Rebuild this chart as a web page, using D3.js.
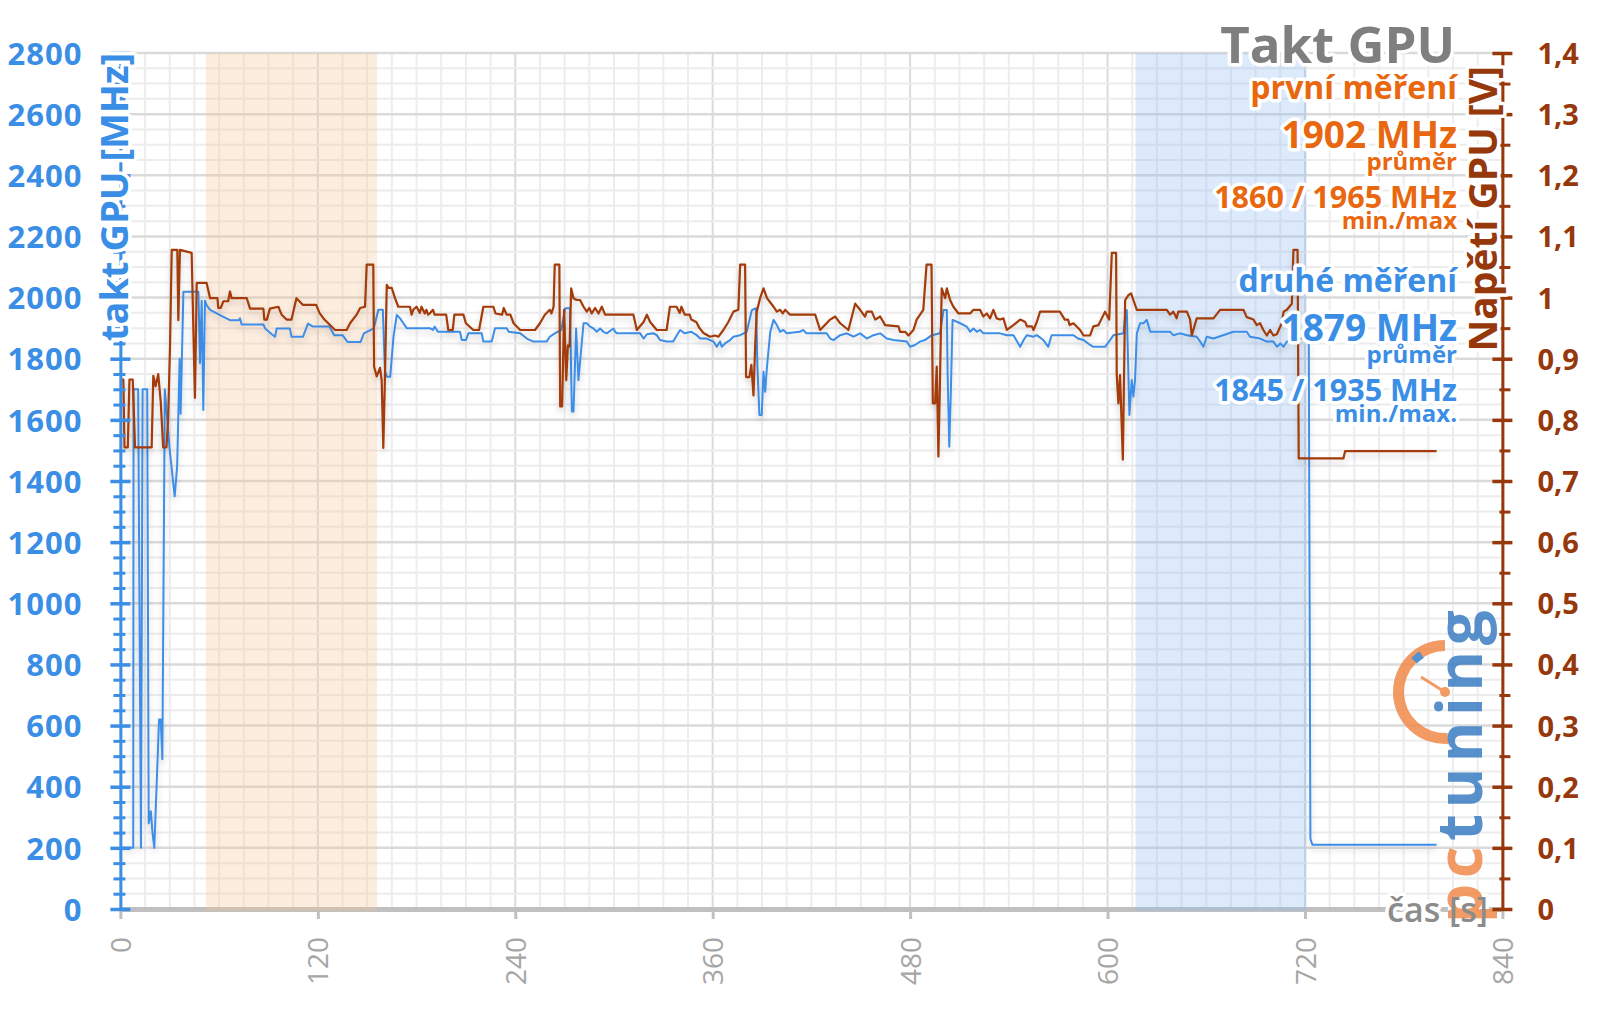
<!DOCTYPE html>
<html><head><meta charset="utf-8">
<script src="https://cdn.jsdelivr.net/npm/d3@7"></script>
<style>
html,body{margin:0;padding:0;background:#fff;}
svg{display:block;font-family:"Open Sans",sans-serif;}
.halo{paint-order:stroke;stroke:#fff;stroke-width:7px;stroke-linejoin:round;}
</style></head><body>
<svg id="chart" width="1600" height="1009"></svg>
<script>
// ---------------- data ----------------
const xTicks = [0, 120, 240, 360, 480, 600, 720, 840];
const mhzTicks = [0, 200, 400, 600, 800, 1000, 1200, 1400, 1600, 1800, 2000, 2200, 2400, 2600, 2800];
const voltTicks = [0, 0.1, 0.2, 0.3, 0.4, 0.5, 0.6, 0.7, 0.8, 0.9, 1.0, 1.1, 1.2, 1.3, 1.4];
const voltLabels = ["0", "0,1", "0,2", "0,3", "0,4", "0,5", "0,6", "0,7", "0,8", "0,9", "1", "1,1", "1,2", "1,3", "1,4"];
const bandFirst = [52, 156];   // s
const bandSecond = [617, 721]; // s
const titleText = "Takt GPU";
const leftAxisTitle = "takt GPU [MHz]";
const rightAxisTitle = "Napětí GPU [V]";
const xAxisTitle = "čas [s]";
const legendFirst = ["první měření", "1902 MHz", "průměr", "1860 / 1965 MHz", "min./max"];
const legendSecond = ["druhé měření", "1879 MHz", "průměr", "1845 / 1935 MHz", "min./max."];

// GPU clock [s, MHz] (left axis)
const clockSeries = [
[0,200],[7.8,200],[8,1700],[10.8,1700],[12.5,200],[13.5,1700],[16.3,1700],[17.2,280],[18.5,320],[19.5,250],[20.6,200],[23.5,620],[24.5,620],[25.5,490],[27,1700],[30,1500],[33,1350],[34.5,1450],[36,1800],[36.6,1620],[38.3,2019],[47.4,2019],[48.4,1786],[49.4,1990],[50.4,1632],[51.4,1990],[52.4,1975],[54.5,1960],[58,1950],[62.6,1937],[66.6,1926],[72,1926],[72.7,1932],[73.7,1912],[86.9,1912],[88,1899],[92,1880],[94,1872],[95,1899],[103,1899],[104,1872],[111,1872],[114,1915],[117,1905],[127,1905],[130,1877],[135,1877],[138,1855],[146,1855],[148,1883],[154,1899],[156.8,1960],[159.5,1960],[160.8,1760],[162,1741],[164,1741],[166,1872],[168,1943],[170,1932],[172,1916],[174,1900],[188,1900],[190,1894],[191,1905],[193,1888],[206.4,1888],[207.5,1861],[210,1861],[211.5,1883],[219.6,1883],[220.6,1856],[225.7,1856],[227.7,1900],[234.8,1900],[236,1888],[243,1883],[247,1866],[251,1856],[259,1856],[261,1872],[264,1883],[268,1894],[270.3,1965],[273.3,1965],[274.4,1627],[275.4,1627],[277,1899],[278.4,1730],[279.4,1790],[281.5,1916],[283.5,1916],[285.5,1905],[287.5,1899],[289.6,1888],[291.6,1899],[293.6,1888],[295.6,1883],[299.7,1899],[300.7,1888],[301.7,1883],[315.9,1883],[318,1866],[320,1880],[324,1883],[326,1877],[328,1861],[332,1856],[336,1856],[338.2,1877],[340.2,1894],[343,1883],[347,1888],[350.3,1877],[352.4,1866],[356.4,1866],[360.5,1856],[362.5,1839],[364.5,1856],[365.5,1839],[367.5,1850],[370.6,1861],[372.6,1872],[376.7,1877],[380.7,1888],[383.8,1959],[386.4,1965],[387.2,1774],[388.4,1616],[389.8,1616],[390.9,1757],[391.9,1692],[392.9,1768],[395,1888],[397,1927],[399,1910],[401,1888],[403,1894],[405,1883],[413,1888],[415,1894],[417,1883],[429.3,1883],[431.4,1866],[433.4,1861],[437.5,1877],[441.5,1883],[445.6,1872],[449.6,1883],[453.7,1866],[457.7,1877],[461.8,1883],[465.8,1866],[469.9,1861],[478,1856],[480,1839],[483,1845],[486,1856],[489,1861],[493.2,1877],[498.2,1883],[500.3,1959],[502.3,1959],[502.8,1752],[503.8,1512],[504.8,1700],[505.8,1927],[508.4,1921],[510.4,1916],[514.4,1905],[516.5,1888],[518.5,1899],[520.5,1888],[522.5,1894],[524.5,1883],[534.7,1883],[538.8,1877],[542.8,1877],[546.9,1839],[549,1861],[551,1877],[555,1872],[557,1877],[561,1861],[564,1839],[566,1877],[579.3,1877],[582,1866],[585.4,1861],[589.4,1845],[591.4,1839],[598.5,1839],[601.6,1861],[603.6,1877],[609.7,1883],[610.7,1943],[611.7,1959],[613.3,1616],[614.7,1730],[615.7,1676],[616.7,1730],[617.8,1883],[619.8,1916],[621.8,1916],[623.8,1927],[626,1888],[638,1888],[640,1877],[644,1883],[648.2,1877],[654.2,1872],[656.3,1856],[658.3,1839],[660.3,1872],[664.4,1866],[676.5,1888],[684.6,1888],[686.6,1872],[692.7,1866],[696.8,1856],[700.8,1856],[703,1839],[705,1850],[707,1839],[709,1856],[711,1861],[716,1866],[722.3,1866],[723.3,230],[724.5,210],[800,210]
];

// GPU voltage [s, V] (right axis)
const voltageSeries = [
[0,0.866],[1.8,0.866],[2.5,0.755],[4.5,0.755],[5.5,0.866],[7.5,0.866],[8.9,0.755],[19,0.755],[20,0.872],[21.4,0.855],[23,0.875],[24.5,0.83],[26,0.755],[28,0.755],[29,0.8],[30.2,0.925],[31.2,1.078],[34.6,1.078],[35.2,0.963],[36.2,1.078],[43.3,1.073],[45.3,0.836],[46.4,1.024],[52.4,1.024],[54.5,0.999],[59,0.999],[59.5,0.983],[61,0.983],[62.6,0.994],[65.5,0.994],[66.6,1.01],[67.6,0.999],[76.8,0.999],[78.8,0.982],[86.9,0.982],[87.5,0.964],[89,0.964],[90.9,0.982],[96,0.985],[98,0.972],[101,0.964],[104,0.964],[107,0.999],[111,0.988],[119,0.988],[121,0.975],[124,0.964],[130.5,0.947],[137.5,0.947],[139.6,0.958],[143.6,0.972],[145.7,0.983],[148.7,0.985],[149.7,1.054],[153.7,1.054],[154.2,0.887],[155.8,0.871],[157.8,0.885],[158.8,0.865],[159.8,0.754],[160.8,0.87],[161.9,1.021],[162.9,1.016],[164.9,1.016],[166.9,0.999],[168.9,0.985],[176,0.985],[177,0.972],[178,0.98],[180,0.985],[182,0.975],[183,0.985],[185,0.974],[186,0.98],[187,0.972],[188,0.974],[190,0.98],[191,0.972],[198,0.972],[199.3,0.947],[202,0.947],[203,0.972],[208.5,0.972],[210,0.958],[214.5,0.947],[218,0.947],[220.6,0.985],[226.7,0.985],[228,0.974],[232,0.972],[233,0.983],[234.8,0.972],[237,0.972],[239,0.958],[243,0.947],[252,0.947],[255,0.958],[258,0.972],[261,0.98],[262,0.974],[263.3,0.985],[264,1.054],[266.8,1.054],[267.3,0.822],[268.5,0.822],[269.7,0.98],[271,0.865],[272,0.922],[273,0.92],[274,1.015],[275.4,0.999],[277.3,0.996],[279.4,0.996],[281.5,0.985],[283.5,0.977],[285,0.983],[286.5,0.974],[288.5,0.983],[290.6,0.974],[292.6,0.985],[294.6,0.972],[311.8,0.972],[313.9,0.947],[318,0.96],[320,0.972],[322,0.96],[326,0.947],[332,0.947],[334,0.985],[338,0.985],[340,0.975],[341,0.985],[343,0.972],[346,0.972],[347,0.964],[350,0.96],[352,0.95],[354.4,0.942],[358.4,0.936],[361.5,0.938],[363.5,0.936],[366.5,0.947],[369.5,0.96],[372.6,0.977],[375.6,0.98],[376.7,1.054],[379.7,1.054],[380.3,0.87],[382.3,0.87],[383.5,0.89],[384.8,0.84],[385.8,0.92],[386.8,0.977],[388.8,0.999],[390.9,1.015],[393,0.999],[397,0.985],[399,0.977],[401,0.98],[402.6,0.974],[404,0.98],[407,0.972],[422.3,0.972],[425.3,0.947],[431.4,0.964],[434.5,0.969],[437.5,0.958],[442.5,0.947],[446.6,0.99],[449.6,0.98],[452.6,0.969],[453.7,0.977],[456.7,0.977],[458.8,0.964],[461.8,0.969],[464.8,0.955],[472.9,0.953],[473.9,0.944],[477,0.944],[479,0.938],[482,0.947],[484,0.964],[488,0.98],[490,1.054],[493,1.054],[493.8,0.827],[495.2,0.827],[496.2,0.887],[497.2,0.74],[498.2,0.87],[499.2,1.015],[501.3,0.999],[502.3,1.015],[504.3,0.996],[506.3,0.985],[509.4,0.974],[516.5,0.974],[518.5,0.98],[522.5,0.98],[524.5,0.969],[526.6,0.974],[528.6,0.966],[530.6,0.98],[532.6,0.966],[534.7,0.964],[536.7,0.966],[538.8,0.947],[542.8,0.955],[546.9,0.964],[550,0.96],[551,0.953],[554,0.953],[555,0.947],[557,0.96],[559,0.977],[571,0.977],[574,0.964],[576,0.964],[577,0.955],[579.3,0.958],[583.3,0.947],[585.4,0.938],[589.4,0.938],[591.4,0.953],[594.5,0.955],[596.5,0.966],[598.5,0.977],[601,0.964],[602.6,1.073],[605.2,1.073],[605.6,0.873],[606.6,0.827],[607.6,0.873],[609.3,0.735],[610.7,0.996],[612.7,1.004],[614.3,1.007],[615.7,0.996],[617.8,0.98],[636,0.98],[638,0.972],[640,0.977],[642,0.966],[643,0.977],[648.2,0.977],[650.2,0.964],[651.2,0.938],[654.2,0.966],[664.4,0.966],[668.4,0.98],[682.6,0.98],[684.6,0.968],[688.7,0.964],[690.7,0.955],[692.7,0.958],[694.7,0.947],[696.8,0.938],[698.8,0.947],[700.8,0.938],[702.9,0.94],[705.9,0.958],[707,0.977],[709,0.98],[712,0.99],[713,1.078],[715.5,1.078],[716.2,0.737],[743.4,0.737],[744.4,0.749],[800,0.749]
];

// ---------------- drawing ----------------
const BLUE = "#3a8ee6", BLUE_LINE = "#3d8ee8", ORANGE = "#e8670f", BROWN = "#96380b", BROWN_LINE = "#a33b08", GRAY = "#7f7f7f";
const svg = d3.select("#chart");
const defs = svg.append("defs");
const f = defs.append("filter").attr("id", "sh").attr("x", "-10%").attr("y", "-10%").attr("width", "120%").attr("height", "130%");
f.append("feDropShadow").attr("dx", 0).attr("dy", 4).attr("stdDeviation", 3).attr("flood-color", "#000").attr("flood-opacity", 0.18);

const x = d3.scaleLinear().domain([0, 840]).range([120.4, 1502.4]);
const yL = d3.scaleLinear().domain([0, 2800]).range([909, 53]);
const yR = d3.scaleLinear().domain([0, 1.4]).range([909, 53]);

// grid
const grid = svg.append("g");
grid.selectAll(".vmin").data(d3.range(0, 841, 15)).join("line")
  .attr("x1", d => x(d)).attr("x2", d => x(d)).attr("y1", yL(2800)).attr("y2", yL(0))
  .attr("stroke", d => d % 120 === 0 ? "#dadae2" : "#ededf1").attr("stroke-width", 2);
grid.selectAll(".hmin").data(d3.range(0, 2801, 50)).join("line")
  .attr("x1", x(0)).attr("x2", x(840)).attr("y1", d => yL(d)).attr("y2", d => yL(d))
  .attr("stroke", d => d % 200 === 0 ? "#dadada" : "#ececec").attr("stroke-width", d => d % 200 === 0 ? 2.5 : 2);

// x axis
const xAxis = svg.append("g").attr("transform", `translate(0,${yL(0)})`)
  .call(d3.axisBottom(x).tickValues(xTicks).tickSizeInner(10).tickSizeOuter(0).tickFormat(d3.format("d")));
xAxis.select(".domain").attr("stroke", "#c0c0c0").attr("stroke-width", 5);
xAxis.selectAll(".tick line").attr("stroke", "#c0c0c0").attr("stroke-width", 3);
xAxis.selectAll(".tick text")
  .attr("transform", "rotate(-90)").attr("text-anchor", "end")
  .attr("x", -28).attr("y", 0).attr("dy", "0.36em")
  .attr("fill", "#a6a6a6").attr("font-size", 28).attr("font-family", "Open Sans").attr("font-weight", 400);

// bands
svg.append("rect").attr("x", x(bandFirst[0])).attr("width", x(bandFirst[1]) - x(bandFirst[0]))
  .attr("y", yL(2800)).attr("height", yL(0) - yL(2800) + 2).attr("fill", "rgba(248,196,150,0.3)");
svg.append("rect").attr("x", x(bandSecond[0])).attr("width", x(bandSecond[1]) - x(bandSecond[0]))
  .attr("y", yL(2800)).attr("height", yL(0) - yL(2800) + 2).attr("fill", "rgba(140,186,242,0.3)");

// lines
const lineL = d3.line().x(d => x(d[0])).y(d => yL(d[1]));
const lineR = d3.line().x(d => x(d[0])).y(d => yR(d[1]));
svg.append("path").datum(clockSeries).attr("d", lineL).attr("fill", "none")
  .attr("stroke", BLUE_LINE).attr("stroke-width", 2).attr("stroke-linejoin", "round").attr("filter", "url(#sh)");
svg.append("path").datum(voltageSeries).attr("d", lineR).attr("fill", "none")
  .attr("stroke", BROWN_LINE).attr("stroke-width", 2.2).attr("stroke-linejoin", "round").attr("filter", "url(#sh)");

// x-axis title halo (under logo)
svg.append("text").attr("x", 1488).attr("y", 922).attr("text-anchor", "end")
  .attr("fill", "#fff").attr("stroke", "#fff").attr("stroke-width", 7).attr("stroke-linejoin", "round")
  .attr("font-size", 34).attr("font-weight", 600).text(xAxisTitle);

// logo
const logo = svg.append("g").attr("opacity", 0.85);
const cx = 1445, cy = 692;
logo.append("path").attr("transform", `translate(${cx},${cy})`)
  .attr("d", d3.arc().innerRadius(41).outerRadius(52).startAngle(Math.PI * 0.98).endAngle(Math.PI * 2.0)())
  .attr("fill", "#f08a4b");
logo.append("path").attr("transform", `translate(${cx},${cy})`)
  .attr("d", d3.arc().innerRadius(40).outerRadius(48).startAngle(Math.PI * 2 - 0.78).endAngle(Math.PI * 2 - 0.56)())
  .attr("fill", "#3b7dc4");
logo.append("line").attr("x1", cx).attr("y1", cy).attr("x2", cx - 24).attr("y2", cy - 15)
  .attr("stroke", "#f08a4b").attr("stroke-width", 3);
logo.append("circle").attr("cx", cx).attr("cy", cy).attr("r", 5).attr("fill", "#f08a4b");
const lt = logo.append("text").attr("transform", "translate(1482,923) rotate(-90)")
  .attr("font-size", 62).attr("font-weight", 700).attr("font-family", "Open Sans").attr("letter-spacing", 5.5);
lt.append("tspan").attr("fill", "#f08a4b").text("pc");
lt.append("tspan").attr("fill", "#3b7dc4").text("tuning");

// left axis
const lAxis = svg.append("g").attr("transform", `translate(${x(0)},0)`)
  .call(d3.axisLeft(yL).tickValues(mhzTicks).tickSizeOuter(0).tickFormat(d3.format("d")));
lAxis.select(".domain").attr("stroke", BLUE).attr("stroke-width", 3);
lAxis.selectAll(".tick line").attr("x1", -10).attr("x2", 10).attr("stroke", BLUE).attr("stroke-width", 3.5);
lAxis.selectAll(".tick text").attr("x", -38).attr("dy", "0.36em").attr("fill", BLUE)
  .attr("font-size", 31).attr("font-weight", 700).attr("font-family", "Open Sans").attr("letter-spacing", 1);
const lMinor = svg.append("g").attr("transform", `translate(${x(0)},0)`)
  .call(d3.axisLeft(yL).tickValues(d3.range(0, 2801, 50).filter(d => d % 200)).tickFormat(""));
lMinor.select(".domain").remove();
lMinor.selectAll(".tick line").attr("x1", -7).attr("x2", 5).attr("stroke", BLUE).attr("stroke-width", 3);

// right axis
const rAxis = svg.append("g").attr("transform", `translate(${x(840)},0)`)
  .call(d3.axisRight(yR).tickValues(voltTicks).tickSizeOuter(0).tickFormat((d, i) => voltLabels[i]));
rAxis.select(".domain").attr("stroke", BROWN).attr("stroke-width", 3);
rAxis.selectAll(".tick line").attr("x1", -10).attr("x2", 10).attr("stroke", BROWN).attr("stroke-width", 3.5);
rAxis.selectAll(".tick text").attr("x", 35).attr("dy", "0.36em").attr("fill", BROWN)
  .attr("font-size", 29).attr("font-weight", 700).attr("font-family", "Open Sans");
const rMinor = svg.append("g").attr("transform", `translate(${x(840)},0)`)
  .call(d3.axisRight(yR).tickValues(d3.range(1, 28, 2).map(d => d * 0.05)).tickFormat(""));
rMinor.select(".domain").remove();
rMinor.selectAll(".tick line").attr("x1", -3).attr("x2", 8).attr("stroke", BROWN).attr("stroke-width", 3);

// axis titles
svg.append("text").attr("class", "halo").attr("transform", "translate(128,53) rotate(-90)")
  .attr("text-anchor", "end").attr("fill", BLUE).attr("font-size", 38).attr("font-weight", 700).text(leftAxisTitle);
svg.append("text").attr("class", "halo").attr("transform", "translate(1497,66) rotate(-90)")
  .attr("text-anchor", "end").attr("fill", BROWN).attr("font-size", 39).attr("font-weight", 700).text(rightAxisTitle);
svg.append("text").attr("x", 1488).attr("y", 922)
  .attr("text-anchor", "end").attr("fill", "#8c8c8c").attr("font-size", 34).attr("font-weight", 600).text(xAxisTitle);

// title + legend
const RX = 1457;
svg.append("text").attr("class", "halo").attr("x", 1455).attr("y", 63).attr("text-anchor", "end")
  .attr("fill", GRAY).attr("font-size", 51).attr("font-weight", 700).text(titleText);
const legY = [99, 148, 170, 208, 229];
const legSize = [[32, 37, 24, 30.5, 24], [32, 37, 24, 30.5, 24]];
legendFirst.forEach((t, i) => svg.append("text").attr("class", "halo").attr("x", RX).attr("y", legY[i])
  .attr("text-anchor", "end").attr("fill", ORANGE).attr("font-size", legSize[0][i]).attr("font-weight", 700).text(t));
legendSecond.forEach((t, i) => svg.append("text").attr("class", "halo").attr("x", RX).attr("y", legY[i] + 193)
  .attr("text-anchor", "end").attr("fill", BLUE).attr("font-size", legSize[1][i]).attr("font-weight", 700).text(t));
</script>
</body></html>
